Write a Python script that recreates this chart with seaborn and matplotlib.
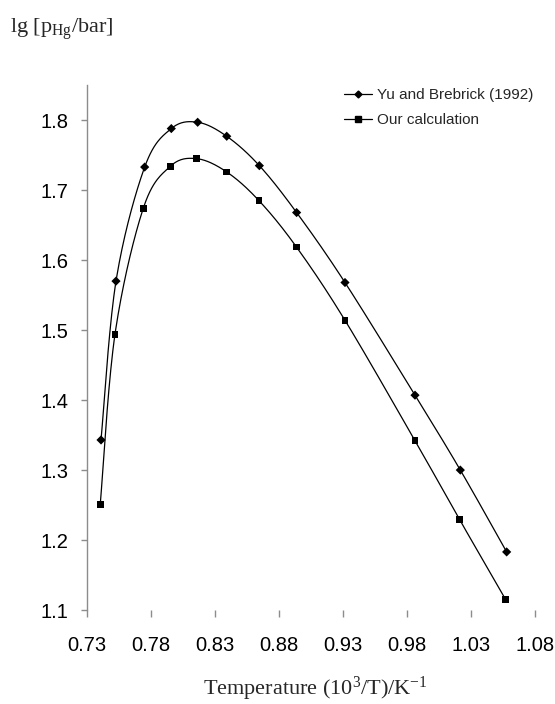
import numpy as np
import pandas as pd
import matplotlib
matplotlib.use("Agg")
import matplotlib.pyplot as plt
import seaborn as sns
from matplotlib.lines import Line2D

# ---- data ----
yu_x = [0.7412, 0.7529, 0.7753, 0.7961, 0.8167, 0.8394, 0.8649, 0.8940, 0.9318, 0.9865, 1.0219, 1.0581]
yu_y = [1.343, 1.570, 1.733, 1.788, 1.797, 1.777, 1.735, 1.668, 1.568, 1.407, 1.300, 1.183]
our_x = [0.7406, 0.7521, 0.7742, 0.7953, 0.8159, 0.8394, 0.8646, 0.8938, 0.9318, 0.9865, 1.0214, 1.0573]
our_y = [1.251, 1.494, 1.674, 1.734, 1.745, 1.726, 1.685, 1.619, 1.514, 1.342, 1.229, 1.115]
series_names = ["Yu and Brebrick (1992)", "Our calculation"]
x_ticks = [0.73, 0.78, 0.83, 0.88, 0.93, 0.98, 1.03, 1.08]
y_ticks = [1.1, 1.2, 1.3, 1.4, 1.5, 1.6, 1.7, 1.8]

pts = pd.concat([
    pd.DataFrame({"x": yu_x, "y": yu_y, "series": series_names[0]}),
    pd.DataFrame({"x": our_x, "y": our_y, "series": series_names[1]}),
], ignore_index=True)


def smooth(xs, ys, n=30):
    """Excel-like smoothed line (uniform Catmull-Rom / cubic Bezier) through the points."""
    P = np.column_stack([xs, ys]).astype(float)
    out = []
    for i in range(len(P) - 1):
        p0 = P[i - 1] if i > 0 else P[i]
        p1, p2 = P[i], P[i + 1]
        p3 = P[i + 2] if i + 2 < len(P) else P[i + 1]
        c1 = p1 + (p2 - p0) / 6.0
        c2 = p2 - (p3 - p1) / 6.0
        t = np.linspace(0, 1, n)[:, None]
        seg = ((1 - t) ** 3) * p1 + 3 * ((1 - t) ** 2) * t * c1 + 3 * (1 - t) * t ** 2 * c2 + t ** 3 * p2
        out.append(seg if i == 0 else seg[1:])
    S = np.vstack(out)
    return S[:, 0], S[:, 1]


curves = []
for name, xs, ys in [(series_names[0], yu_x, yu_y), (series_names[1], our_x, our_y)]:
    sx, sy = smooth(xs, ys)
    curves.append(pd.DataFrame({"x": sx, "y": sy, "series": name, "order": np.arange(len(sx))}))
curves = pd.concat(curves, ignore_index=True)

sns.set_theme(style="white")
plt.rcParams["font.family"] = ["Liberation Sans", "DejaVu Sans"]
plt.rcParams["mathtext.fontset"] = "custom"
plt.rcParams["mathtext.rm"] = "Liberation Serif"
plt.rcParams["mathtext.it"] = "Liberation Serif:italic"

fig = plt.figure(figsize=(5.55, 7.04), dpi=100)
ax = fig.add_axes([0.1562, 0.1335, 0.8072, 0.7455])

for name in series_names:
    c = curves[curves["series"] == name]
    sns.lineplot(data=c, x="x", y="y", sort=False, estimator=None, color="black",
                 linewidth=0.9, ax=ax, legend=False)

sns.scatterplot(data=pts, x="x", y="y", style="series",
                markers={series_names[0]: "D", series_names[1]: "s"},
                color="black", s=22, linewidth=0, ax=ax, legend=False)

ax.set_xlim(0.73, 1.08)
ax.set_ylim(1.1, 1.85)
ax.set_xticks(x_ticks)
ax.set_xticklabels([f"{v:.2f}" for v in x_ticks])
ax.set_yticks(y_ticks)
ax.set_yticklabels([f"{v:.1f}" for v in y_ticks])
ax.set_xlabel("")
ax.set_ylabel("")

for s in ["top", "right", "bottom"]:
    ax.spines[s].set_visible(False)
ax.spines["left"].set_color("#8c8c8c")
ax.spines["left"].set_linewidth(1.0)

ax.tick_params(axis="x", bottom=True, direction="out", length=5, width=1,
               color="#8c8c8c", labelsize=14.5, pad=14, labelcolor="black")
ax.tick_params(axis="y", left=True, direction="out", length=4, width=1,
               color="#8c8c8c", labelsize=14.5, pad=9, labelcolor="black")

handles = [
    Line2D([], [], color="black", linewidth=0.9, marker="D", markersize=3.5),
    Line2D([], [], color="black", linewidth=0.9, marker="s", markersize=4),
]
fig.legend(handles, series_names, loc="upper left", bbox_to_anchor=(344 / 555, 1 - 88 / 704),
           frameon=False, fontsize=11, handlelength=1.8, handletextpad=0.35,
           borderpad=0, borderaxespad=0, labelspacing=0.75)

fig.text(10 / 555, 1 - 33 / 704, r"lg [p$_{\mathrm{Hg}}$/bar]", fontsize=16,
         family=["Liberation Serif"], va="baseline", ha="left")
fig.text(315 / 555, 1 - 695 / 704, r"Temperature (10$^{3}$/T)/K$^{-1}$", fontsize=16,
         family=["Liberation Serif"], va="baseline", ha="center")

fig.savefig("out.png", dpi=100)
